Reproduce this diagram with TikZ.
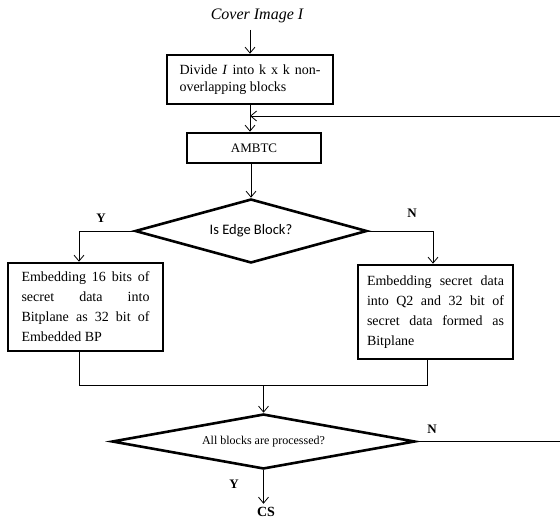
\documentclass[tikz,border=0pt]{standalone}
\usepackage{fontspec}
\setmainfont{Liberation Serif}
\newfontfamily\calibfont{Carlito}
\usetikzlibrary{shapes.geometric,arrows.meta}
\begin{document}
\begin{tikzpicture}[x=1pt,y=-1pt,
  conn/.style={line width=0.8pt},
  arr/.style={conn,-{Straight Barb[length=6pt,width=10pt]}},
  procbox/.style={draw,line width=2.6pt,inner sep=0pt},
  decision/.style={draw,diamond,line width=2.6pt,inner sep=0pt,align=center},
  lbl/.style={font=\fontsize{13}{13}\selectfont\bfseries},
  bodytext/.style={align=justify,font=\fontsize{14}{20}\selectfont}
]
\useasboundingbox (0,0) rectangle (560,519);

\node (cover) at (257,16) {\fontsize{16}{18}\selectfont\itshape Cover Image I};

\node[procbox, bodytext, font=\fontsize{14}{17}\selectfont, text width=141pt,
      minimum width=166pt, minimum height=49pt] (divide) at (250,79.5)
  {Divide \textit{I} into k x k non-\linebreak overlapping blocks};

\node[procbox, minimum width=134pt, minimum height=30pt,
      font=\fontsize{13}{15}\selectfont] (ambtc) at (254,148) {AMBTC};

\node[decision, shape aspect=3.6, minimum width=232pt, minimum height=64pt] (edge) at (251,231)
  {\calibfont\fontsize{14.5}{16}\selectfont Is Edge Block?};

\node[procbox, bodytext, text width=128pt, minimum width=155pt, minimum height=88pt] (lbox) at (85.5,307)
  {Embedding 16 bits of\linebreak secret data into\linebreak Bitplane as 32 bit of\linebreak Embedded BP};

\node[procbox, bodytext, text width=137pt, minimum width=155pt, minimum height=94pt] (rbox) at (435.5,312)
  {Embedding secret data\linebreak into Q2 and 32 bit of\linebreak secret data formed as\linebreak Bitplane};

\node[decision, shape aspect=5.5, minimum width=303pt, minimum height=55pt] (all) at (263.5,441.5)
  {\fontsize{12}{14}\selectfont All blocks are processed?};

\node[font=\fontsize{14}{14}\selectfont\bfseries] (cs) at (266,512) {CS};

\node[lbl] (y1) at (101,218) {Y};
\node[lbl] (n1) at (412,213) {N};
\node[lbl] (y2) at (234,484) {Y};
\node[lbl] (n2) at (432,429) {N};

\coordinate (lx) at (79,0);
\coordinate (rx) at (433,0);
\coordinate (bx) at (427,0);
\coordinate (my) at (0,385);
\coordinate (re) at (563,0);
\coordinate (fb) at (250,116);
\coordinate (ct) at (0,30);

\draw[arr] (divide.north |- ct) -- (divide.north);
\draw[arr] (divide.south) -- (divide.south |- ambtc.north);
\draw[arr] (all.east) -- (all.east -| re) |- (fb);
\draw[arr] (edge.north |- ambtc.south) -- (edge.north);
\draw[arr] (edge.west) -| (lbox.north -| lx);
\draw[arr] (edge.east) -| (rbox.north -| rx);
\draw[conn] (lbox.south -| lx) -- (lx |- my) -- (bx |- my) -- (rbox.south -| bx);
\draw[arr] (all.north |- my) -- (all.north);
\draw[arr] (all.south) -- (all.south |- cs.north);
\end{tikzpicture}
\end{document}
